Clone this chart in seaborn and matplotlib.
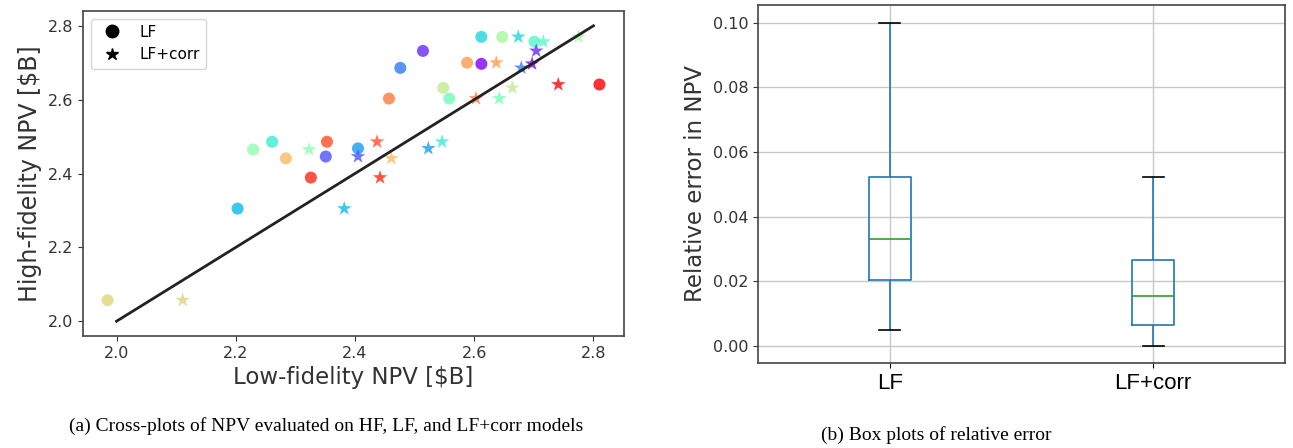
import numpy as np
import pandas as pd
import matplotlib
matplotlib.use("Agg")
import matplotlib.pyplot as plt
from matplotlib.lines import Line2D
import seaborn as sns

# NPV per sample [$B], ordered by colour (purple -> red)
hf_npv = [2.697, 2.732, 2.446, 2.686, 2.468, 2.305, 2.770, 2.486, 2.757, 2.603,
          2.465, 2.770, 2.632, 2.057, 2.441, 2.700, 2.603, 2.486, 2.389, 2.641]
lf_npv = [2.612, 2.514, 2.351, 2.476, 2.405, 2.203, 2.612, 2.261, 2.701, 2.558,
          2.229, 2.647, 2.548, 1.985, 2.284, 2.588, 2.457, 2.353, 2.326, 2.810]
lfcorr_npv = [2.697, 2.704, 2.405, 2.679, 2.523, 2.382, 2.674, 2.546, 2.716, 2.642,
              2.323, 2.775, 2.664, 2.111, 2.461, 2.637, 2.603, 2.437, 2.442, 2.741]
diag = [2.0, 2.8]

# relative error five-number summaries (min, q1, median, q3, max)
models = ["LF", "LF+corr"]
err_lf = [0.005, 0.0203, 0.0332, 0.0522, 0.100]
err_corr = [0.0, 0.0064, 0.0155, 0.0265, 0.0522]

df = pd.DataFrame({"sample": np.arange(len(hf_npv)), "hf": hf_npv,
                   "lf": lf_npv, "corr": lfcorr_npv})
err_df = pd.DataFrame({"model": [models[0]] * len(err_lf) + [models[1]] * len(err_corr),
                       "err": err_lf + err_corr})

fig = plt.figure(figsize=(12.93, 4.48), dpi=100)
ax1 = fig.add_axes([0.0642, 0.25, 0.4184, 0.7254])
ax2 = fig.add_axes([0.5862, 0.1897, 0.4076, 0.799])

# (a) cross-plot
sns.lineplot(x=diag, y=diag, color="#222222", linewidth=2, ax=ax1)
sns.scatterplot(data=df, x="lf", y="hf", hue="sample", palette="rainbow", marker="o",
                s=75, alpha=0.8, edgecolor="none", legend=False, ax=ax1)
sns.scatterplot(data=df, x="corr", y="hf", hue="sample", palette="rainbow", marker="*",
                s=120, alpha=0.8, edgecolor="none", legend=False, ax=ax1)
ax1.set_xticks([2.0, 2.2, 2.4, 2.6, 2.8])
ax1.set_yticks([2.0, 2.2, 2.4, 2.6, 2.8])
ax1.tick_params(labelsize=11.5, colors="#333333")
ax1.set_xlabel("Low-fidelity NPV [$B]", fontsize=16.5, color="#333333")
ax1.set_ylabel("High-fidelity NPV [$B]", fontsize=17, color="#333333")
handles = [Line2D([], [], marker="o", color="k", linestyle="", markersize=9),
           Line2D([], [], marker="*", color="k", linestyle="", markersize=9)]
ax1.legend(handles, models, loc="upper left", fontsize=11)

# (b) box plots
sns.boxplot(data=err_df, x="model", y="err", fill=False, width=0.16, linecolor="#1f77b4",
            linewidth=1.2, whis=1.5,
            medianprops={"color": "#2ca02c"}, capprops={"color": "black"},
            whiskerprops={"color": "#1f77b4"}, ax=ax2)
ax2.grid(True, color="#c8c8c8", linewidth=1)
ax2.set_axisbelow(True)
ax2.set_xlabel("")
ax2.set_ylabel("Relative error in NPV", fontsize=16.5, color="#333333")
ax2.set_yticks([0.0, 0.02, 0.04, 0.06, 0.08, 0.10])
ax2.set_yticklabels(["0.00", "0.02", "0.04", "0.06", "0.08", "0.10"])
ax2.tick_params(axis="y", labelsize=11.5, colors="#333333")
ax2.tick_params(axis="x", labelsize=16)
for lab in ax2.get_xticklabels():
    lab.set_fontfamily("Liberation Sans")
ax2.set_xlim(-0.5, 1.5)
ax2.set_ylim(-0.0053, 0.1055)

for ax in (ax1, ax2):
    for sp in ax.spines.values():
        sp.set_color("#444444")
        sp.set_linewidth(1.2)

fig.text(0.252, 0.048, "(a) Cross-plots of NPV evaluated on HF, LF, and LF+corr models",
         ha="center", va="center", fontsize=14, family="Liberation Serif")
fig.text(0.724, 0.03, "(b) Box plots of relative error",
         ha="center", va="center", fontsize=14, family="Liberation Serif")

fig.savefig("out.png", dpi=100)
